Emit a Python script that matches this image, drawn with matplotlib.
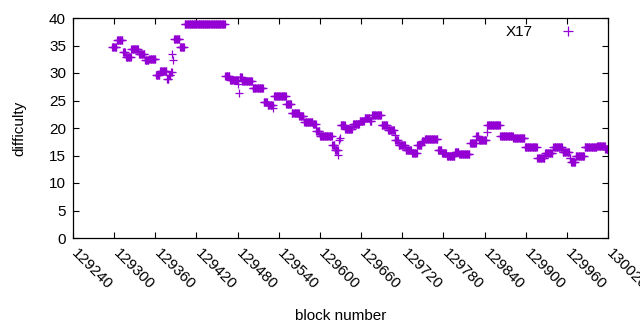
import numpy as np
import matplotlib
matplotlib.use("Agg")
import matplotlib.pyplot as plt
import matplotlib.transforms as mtransforms

# Difficulty runs: one point per block from run_start to run_end (inclusive)
run_start = [129297, 129304, 129313, 129317, 129325, 129336, 129345, 129351,
             129361, 129367, 129377, 129380, 129383, 129385, 129386, 129387,
             129396, 129403, 129462, 129469, 129481, 129482, 129483, 129487,
             129502, 129518, 129524, 129532, 129533, 129551, 129559, 129570,
             129577, 129590, 129595, 129600, 129618, 129622, 129627, 129628,
             129629, 129630, 129637, 129648, 129658, 129665, 129673, 129676,
             129690, 129699, 129709, 129710, 129715, 129725, 129734, 129742,
             129749, 129753, 129772, 129778, 129785, 129797, 129803, 129819,
             129828, 129832, 129843, 129844, 129863, 129882, 129899, 129917,
             129928, 129940, 129954, 129964, 129966, 129973, 129986, 130004,
             130016]
run_end = [129303, 129312, 129316, 129324, 129335, 129344, 129350, 129360,
           129366, 129376, 129379, 129382, 129384, 129385, 129386, 129395,
           129402, 129461, 129468, 129480, 129481, 129482, 129486, 129501,
           129517, 129523, 129531, 129532, 129550, 129558, 129569, 129576,
           129589, 129594, 129599, 129617, 129621, 129626, 129627, 129628,
           129629, 129636, 129647, 129657, 129664, 129672, 129675, 129689,
           129698, 129708, 129709, 129714, 129724, 129733, 129741, 129748,
           129752, 129771, 129777, 129784, 129796, 129802, 129818, 129827,
           129831, 129842, 129843, 129862, 129881, 129898, 129916, 129927,
           129939, 129953, 129963, 129965, 129972, 129985, 130003, 130015,
           130020]
run_diff = [34.7, 36.0, 33.8, 33.0, 34.4, 33.4, 32.3, 32.5,
            29.7, 30.3, 29.0, 29.6, 30.2, 33.4, 32.4, 36.1,
            34.8, 38.9, 29.4, 28.8, 28.0, 26.4, 29.2, 28.5,
            27.2, 24.7, 24.2, 23.6, 25.8, 24.4, 22.8, 22.2,
            21.1, 20.8, 19.5, 18.5, 16.9, 16.0, 15.1, 17.8,
            18.1, 20.5, 19.9, 20.7, 21.3, 21.8, 21.2, 22.3,
            20.5, 19.6, 18.7, 17.8, 16.9, 16.0, 15.4, 17.0,
            17.7, 18.0, 16.0, 15.5, 14.9, 15.7, 15.3, 17.2,
            18.6, 17.8, 19.2, 20.5, 18.6, 18.1, 16.5, 14.6,
            15.5, 16.5, 15.6, 14.5, 13.8, 14.9, 16.5, 16.8,
            16.1]

x_ticks = np.arange(129240, 130021, 60)
y_ticks = np.arange(0, 41, 5)

# expand runs to one point per block
blocks = np.concatenate([np.arange(s, e + 1) for s, e in zip(run_start, run_end)])
diffs = np.concatenate([np.full(e - s + 1, d) for s, e, d in zip(run_start, run_end, run_diff)])

plt.rcParams['font.family'] = ['Liberation Sans', 'DejaVu Sans']
plt.rcParams['font.size'] = 11

fig = plt.figure(figsize=(6.4, 3.3), dpi=100)
ax = fig.add_axes([73 / 640, 1 - 238 / 330, 535 / 640, 220 / 330])

ax.plot(blocks, diffs, linestyle='none', marker='+', color='#9400d3',
        markersize=5.5, markeredgewidth=0.9, label='X17')

ax.set_xlim(129240, 130020)
ax.set_ylim(0, 40)
ax.set_xticks(x_ticks)
ax.set_yticks(y_ticks)
ax.tick_params(direction='in', length=4, width=0.8, top=True, right=True, pad=5)
ax.tick_params(axis='x', pad=6)
shift = mtransforms.ScaledTranslation(6 / 100, 0, fig.dpi_scale_trans)
for lbl in ax.get_xticklabels():
    lbl.set_rotation(-45)
    lbl.set_ha('left')
    lbl.set_va('top')
    lbl.set_rotation_mode('anchor')
    lbl.set_transform(lbl.get_transform() + shift)
for sp in ax.spines.values():
    sp.set_linewidth(0.9)

ax.set_xlabel('block number', labelpad=12)
ax.set_ylabel('difficulty', labelpad=16)

leg = ax.legend(loc='upper right', frameon=False, markerfirst=False,
                handlelength=3, handletextpad=0.8, borderpad=0, borderaxespad=0,
                markerscale=1.2, bbox_to_anchor=(591 / 640, 1 - 25 / 330),
                bbox_transform=fig.transFigure)

fig.savefig('out.png', dpi=100)
